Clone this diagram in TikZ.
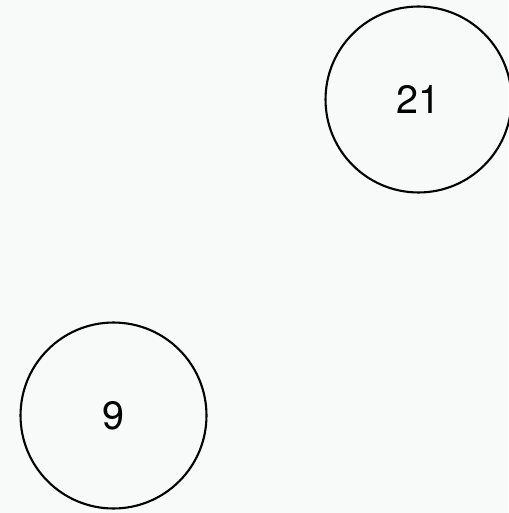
\documentclass[tikz,border=0pt]{standalone}
\usepackage{fontspec}
\setmainfont{TeX Gyre Heros}
\usepackage{tikz}
\definecolor{pagebg}{HTML}{F8F9F9}
\tikzset{
  valnode/.style={draw, circle, line width=1.2pt, minimum size=3.72cm,
                  inner sep=0pt, font=\fontsize{22.5}{27}\selectfont},
}

\begin{document}
\begin{tikzpicture}[x=0.02cm, y=-0.02cm]
    \fill[pagebg] (0,0) rectangle (508,513);
    \useasboundingbox (0,0) rectangle (508,513);
    \node[valnode] (n21) at (418.5,99.5) {21};
    \node[valnode] (n9) at (113.5,415.5) {9};
  \end{tikzpicture}
\end{document}
